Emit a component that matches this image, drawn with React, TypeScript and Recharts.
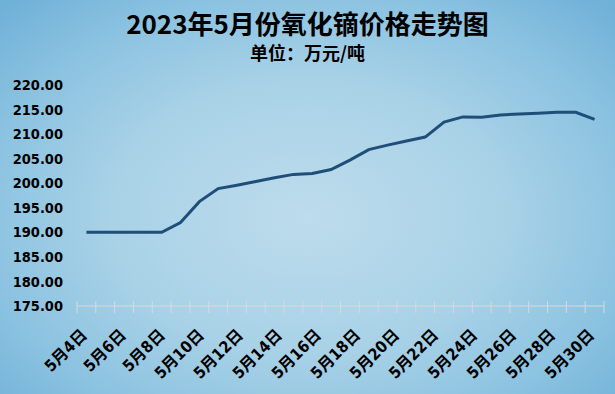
import React from 'react';
import { LineChart, Line, XAxis, YAxis } from 'recharts';

const title = '2023年5月份氧化镝价格走势图';
const subtitle = '单位：万元/吨';

const dates = [
  '5月4日', '5月5日', '5月6日', '5月7日', '5月8日', '5月9日', '5月10日',
  '5月11日', '5月12日', '5月13日', '5月14日', '5月15日', '5月16日', '5月17日',
  '5月18日', '5月19日', '5月20日', '5月21日', '5月22日', '5月23日', '5月24日',
  '5月25日', '5月26日', '5月27日', '5月28日', '5月29日', '5月30日', '5月31日',
];

const prices = [
  190, 190, 190, 190, 190, 192, 196.25,
  198.9, 199.6, 200.35, 201.1, 201.8, 202, 202.8,
  204.7, 206.85, 207.75, 208.6, 209.4, 212.45, 213.5,
  213.45, 213.9, 214.1, 214.25, 214.45, 214.45, 213,
];

const yTicks = [175, 180, 185, 190, 195, 200, 205, 210, 215, 220];

const boundaryTicks = Array.from({ length: dates.length + 1 }, (_, i) => i);

const data = dates.map((d, i) => ({ date: d, pos: i + 0.5, price: prices[i] }));

const LABEL_FONT = '"DejaVu Sans Condensed", "Noto Sans CJK SC", sans-serif';

const DateTick = (props: any) => {
  const { x, y, payload } = props;
  const ax = x + 7;
  return (
    <text
      x={ax}
      y={y}
      dy="0.35em"
      textAnchor="end"
      transform={`rotate(-45, ${ax}, ${y})`}
      fontFamily={LABEL_FONT}
      fontWeight="bold"
      fontSize={16}
      fill="#000"
    >
      {payload.value}
    </text>
  );
};

const EmptyTick = () => <g />;

export default function App() {
  return (
    <div
      style={{
        position: 'absolute',
        left: 0,
        top: 0,
        width: 615,
        height: 394,
        overflow: 'hidden',
        background:
          'radial-gradient(ellipse 70% 75% at 50% 55%, #bddcec 0%, #a9d2e7 45%, #8cc3e1 75%, #70b1d8 100%)',
      }}
    >
      <div
        style={{
          position: 'absolute',
          left: 0,
          top: 8,
          width: 615,
          height: 30,
          lineHeight: '30px',
          textAlign: 'center',
          fontFamily: '"Noto Sans CJK SC", sans-serif',
          fontWeight: 'bold',
          fontSize: 26,
          color: '#000',
        }}
      >
        {title}
      </div>
      <div
        style={{
          position: 'absolute',
          left: 0,
          top: 42,
          width: 615,
          height: 20,
          lineHeight: '20px',
          textAlign: 'center',
          fontFamily: '"Noto Sans CJK SC", sans-serif',
          fontWeight: 'bold',
          fontSize: 18,
          color: '#000',
        }}
      >
        {subtitle}
      </div>
      <LineChart
        width={615}
        height={394}
        data={data}
        margin={{ top: 85, right: 11, bottom: 0, left: 0 }}
        style={{ position: 'absolute', left: 0, top: 0 }}
      >
        <XAxis
          xAxisId="labels"
          type="category"
          dataKey="date"
          interval={1}
          axisLine={false}
          tickLine={false}
          height={88}
          tickMargin={20}
          tick={<DateTick />}
        />
        <XAxis
          xAxisId="ticks"
          type="number"
          dataKey="pos"
          mirror
          domain={[0, dates.length]}
          ticks={boundaryTicks}
          interval={0}
          tick={<EmptyTick />}
          height={20}
          axisLine={{ stroke: '#d9d9d9', strokeWidth: 1 }}
          tickLine={{ stroke: '#d9d9d9', strokeWidth: 1, transform: 'translate(0,7)' }}
          tickSize={12}
          allowDataOverflow
        />
        <YAxis
          domain={[175, 220]}
          ticks={yTicks}
          interval={0}
          width={77}
          axisLine={false}
          tickLine={false}
          tickMargin={8}
          tickFormatter={(v: number) => v.toFixed(2)}
          tick={{
            fill: '#000',
            fontFamily: '"DejaVu Sans Condensed", "DejaVu Sans", sans-serif',
            fontWeight: 'bold',
            fontSize: 14.5,
          }}
        />
        <Line
          xAxisId="ticks"
          type="linear"
          dataKey="price"
          stroke="#1f4e79"
          strokeWidth={3}
          dot={false}
          activeDot={false}
          isAnimationActive={false}
        />
        <Line
          xAxisId="labels"
          type="linear"
          dataKey="price"
          stroke="none"
          dot={false}
          activeDot={false}
          legendType="none"
          isAnimationActive={false}
        />
      </LineChart>
    </div>
  );
}
